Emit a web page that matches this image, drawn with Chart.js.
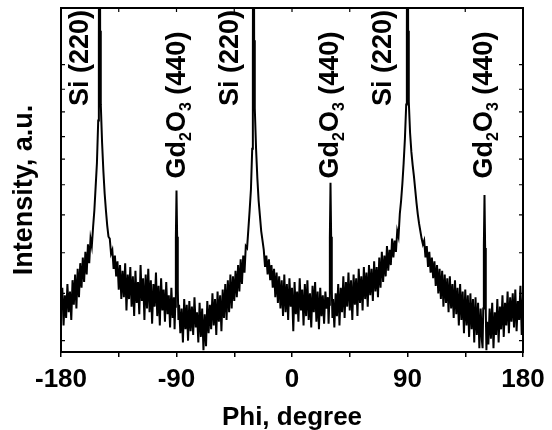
<!DOCTYPE html>
<html>
<head>
<meta charset="utf-8">
<script src="https://cdn.jsdelivr.net/npm/chart.js@4.4.1/dist/chart.umd.min.js"></script>
<style>
  html, body { margin: 0; padding: 0; background: #fff; }
</style>
</head>
<body>
<canvas id="phi-chart" width="552" height="430"></canvas>
<script>
// phi scan, angle in degrees
const phi = [
  -180, -179, -178, -177, -176, -175, -174, -173, -172, -171,
  -170, -169, -168, -167, -166, -165, -164, -163, -162, -161,
  -160, -159, -158, -157, -156, -155, -154, -153, -152, -151,
  -150.5, -150, -149.5, -149, -148, -147, -146, -145, -144, -143,
  -142, -141, -140, -139, -138, -137, -136, -135, -134, -133,
  -132, -131, -130, -129, -128, -127, -126, -125, -124, -123,
  -122, -121, -120, -119, -118, -117, -116, -115, -114, -113,
  -112, -111, -110, -109, -108, -107, -106, -105, -104, -103,
  -102, -101, -100, -99, -98, -97, -96, -95, -94, -93,
  -92, -91.5, -91, -90.5, -90, -89.5, -89, -88.5, -88, -87,
  -86, -85, -84, -83, -82, -81, -80, -79, -78, -77,
  -76, -75, -74, -73, -72, -71, -70, -69, -68, -67,
  -66, -65, -64, -63, -62, -61, -60, -59, -58, -57,
  -56, -55, -54, -53, -52, -51, -50, -49, -48, -47,
  -46, -45, -44, -43, -42, -41, -40, -39, -38, -37,
  -36, -35, -34, -33, -32, -31, -30.5, -30, -29.5, -29,
  -28, -27, -26, -25, -24, -23, -22, -21, -20, -19,
  -18, -17, -16, -15, -14, -13, -12, -11, -10, -9,
  -8, -7, -6, -5, -4, -3, -2, -1, 0, 1,
  2, 3, 4, 5, 6, 7, 8, 9, 10, 11,
  12, 13, 14, 15, 16, 17, 18, 19, 20, 21,
  22, 23, 24, 25, 26, 27, 28, 28.5, 29, 29.5,
  30, 30.5, 31, 31.5, 32, 33, 34, 35, 36, 37,
  38, 39, 40, 41, 42, 43, 44, 45, 46, 47,
  48, 49, 50, 51, 52, 53, 54, 55, 56, 57,
  58, 59, 60, 61, 62, 63, 64, 65, 66, 67,
  68, 69, 70, 71, 72, 73, 74, 75, 76, 77,
  78, 79, 80, 81, 82, 83, 84, 85, 86, 87,
  88, 89, 89.5, 90, 90.5, 91, 92, 93, 94, 95,
  96, 97, 98, 99, 100, 101, 102, 103, 104, 105,
  106, 107, 108, 109, 110, 111, 112, 113, 114, 115,
  116, 117, 118, 119, 120, 121, 122, 123, 124, 125,
  126, 127, 128, 129, 130, 131, 132, 133, 134, 135,
  136, 137, 138, 139, 140, 141, 142, 143, 144, 145,
  146, 147, 148, 148.5, 149, 149.5, 150, 150.5, 151, 151.5,
  152, 153, 154, 155, 156, 157, 158, 159, 160, 161,
  162, 163, 164, 165, 166, 167, 168, 169, 170, 171,
  172, 173, 174, 175, 176, 177, 178, 179, 180
];

// intensity, arbitrary units (axis runs 0..364)
const intensity = [
  45, 68, 28, 60, 36, 72, 42, 64, 34, 76,
  50, 82, 46, 88, 58, 94, 68, 100, 74, 106,
  82, 114, 94, 120, 112, 132, 150, 175, 200, 245,
  330, 700, 340, 262, 222, 192, 168, 150, 134, 122,
  120, 104, 108, 88, 102, 80, 96, 66, 92, 56,
  86, 58, 94, 44, 82, 56, 90, 48, 80, 38,
  86, 52, 74, 40, 92, 54, 78, 34, 82, 46,
  88, 42, 76, 30, 72, 48, 84, 38, 70, 28,
  78, 44, 66, 32, 74, 40, 60, 26, 68, 36,
  58, 24, 48, 120, 171, 122, 66, 34, 50, 20,
  46, 10, 56, 24, 50, 12, 54, 22, 48, 18,
  58, 26, 42, 10, 52, 16, 46, 2, 40, 6,
  54, 20, 50, 24, 62, 28, 56, 18, 64, 32,
  60, 22, 66, 36, 72, 34, 76, 42, 82, 46,
  80, 54, 86, 58, 92, 64, 98, 72, 102, 84,
  112, 110, 130, 150, 172, 215, 310, 700, 330, 258,
  215, 184, 160, 144, 128, 118, 108, 90, 102, 82,
  98, 76, 92, 68, 88, 58, 84, 52, 80, 46,
  76, 38, 82, 42, 72, 34, 78, 48, 68, 22,
  74, 40, 64, 32, 78, 44, 66, 28, 72, 38,
  76, 34, 62, 26, 70, 42, 74, 32, 64, 24,
  68, 38, 60, 30, 64, 46, 58, 30, 50, 120,
  179, 122, 66, 36, 56, 26, 62, 38, 72, 28,
  68, 42, 80, 36, 74, 48, 84, 44, 76, 34,
  82, 50, 78, 38, 88, 52, 80, 44, 90, 56,
  84, 48, 92, 60, 88, 54, 96, 64, 90, 58,
  100, 68, 106, 74, 102, 80, 112, 86, 108, 92,
  120, 100, 118, 106, 128, 122, 146, 160, 178, 200,
  226, 262, 335, 700, 340, 265, 232, 212, 198, 186,
  172, 158, 146, 136, 128, 120, 114, 118, 100, 112,
  90, 106, 84, 100, 78, 96, 70, 92, 62, 88,
  56, 86, 48, 82, 52, 78, 42, 80, 46, 72,
  36, 76, 40, 68, 28, 72, 34, 64, 20, 66,
  28, 60, 16, 62, 24, 56, 10, 58, 18, 52,
  4, 46, 12, 4, 46, 112, 166, 110, 42, 2,
  32, 8, 46, 14, 52, 4, 42, 18, 56, 10,
  48, 24, 60, 16, 52, 28, 64, 20, 58, 32,
  62, 26, 66, 22, 54, 34, 70, 18, 60
];

const xTicks = [-180, -135, -90, -45, 0, 45, 90, 135, 180];
const xLabels = [-180, -90, 0, 90, 180];
const yTicks = [12, 62, 105, 145, 177, 204, 228, 254, 278, 304];

// peak annotations ("_" marks a subscript character)
const peakText = ["Si (220)", "Gd_2O_3 (440)", "Si (220)", "Gd_2O_3 (440)", "Si (220)", "Gd_2O_3 (440)"];
const peakPhi = [-164.4, -89.2, -47.6, 30, 71.7, 150];
const peakTop = [362, 339, 362, 339, 362, 339];

const FONT = 'Arial, "Liberation Sans", Helvetica, sans-serif';

function drawRotated(ctx, text, x, yTop) {
  const runs = [];
  for (let i = 0; i < text.length; i++) {
    if (text[i] === "_") {
      runs.push({ t: text[i + 1], sub: true });
      i++;
    } else if (runs.length && !runs[runs.length - 1].sub) {
      runs[runs.length - 1].t += text[i];
    } else {
      runs.push({ t: text[i], sub: false });
    }
  }
  const big = "bold 27px " + FONT;
  const small = "bold 16px " + FONT;
  let total = 0;
  runs.forEach((r) => {
    ctx.font = r.sub ? small : big;
    r.w = ctx.measureText(r.t).width;
    total += r.w;
  });
  ctx.save();
  ctx.translate(x + 7, yTop + total);
  ctx.rotate(-Math.PI / 2);
  ctx.textBaseline = "alphabetic";
  ctx.textAlign = "left";
  ctx.fillStyle = "#000";
  let pos = 0;
  runs.forEach((r) => {
    ctx.font = r.sub ? small : big;
    ctx.fillText(r.t, pos, r.sub ? 6 : 0);
    pos += r.w;
  });
  ctx.restore();
}

const framePlugin = {
  id: "frame",
  afterDatasetsDraw(chart) {
    const { ctx, chartArea: a, scales } = chart;
    const x = scales.x;
    const y = scales.y;
    ctx.save();
    ctx.strokeStyle = "#000";
    ctx.lineWidth = 2;
    ctx.strokeRect(a.left, a.top, a.right - a.left, a.bottom - a.top);
    ctx.lineWidth = 1.2;
    ctx.beginPath();
    xTicks.forEach((v) => {
      const px = x.getPixelForValue(v);
      ctx.moveTo(px, a.top);
      ctx.lineTo(px, a.top + 4);
    });
    yTicks.forEach((v) => {
      const py = y.getPixelForValue(v);
      ctx.moveTo(a.left, py);
      ctx.lineTo(a.left + 4, py);
      ctx.moveTo(a.right, py);
      ctx.lineTo(a.right - 4, py);
    });
    ctx.stroke();

    // y axis title, set a little below the axis middle as in the original
    ctx.translate(25, 190);
    ctx.rotate(-Math.PI / 2);
    ctx.font = "bold 27px " + FONT;
    ctx.fillStyle = "#000";
    ctx.textAlign = "center";
    ctx.textBaseline = "middle";
    ctx.fillText("Intensity, a.u.", 0, 0);
    ctx.restore();

    peakText.forEach((t, i) => {
      drawRotated(ctx, t, x.getPixelForValue(peakPhi[i]), y.getPixelForValue(peakTop[i]));
    });
  },
};

new Chart(document.getElementById("phi-chart").getContext("2d"), {
  type: "line",
  data: {
    datasets: [
      {
        data: phi.map((p, i) => ({ x: p, y: intensity[i] })),
        borderColor: "#000",
        borderWidth: 2,
        pointRadius: 0,
        tension: 0,
        fill: false,
      },
    ],
  },
  options: {
    responsive: false,
    animation: false,
    layout: { padding: { top: 8, right: 29, left: 0, bottom: 0 } },
    plugins: { legend: { display: false }, tooltip: { enabled: false } },
    scales: {
      x: {
        type: "linear",
        min: -180,
        max: 180,
        afterBuildTicks: (s) => {
          s.ticks = xTicks.map((v) => ({ value: v }));
        },
        afterFit: (s) => {
          s.height = 78;
        },
        ticks: {
          autoSkip: false,
          maxRotation: 0,
          padding: 7,
          color: "#000",
          font: { family: FONT, size: 26, weight: "bold" },
          callback: (v) => (xLabels.includes(v) ? String(v) : ""),
        },
        grid: { drawOnChartArea: false, drawTicks: true, tickLength: 5, color: "#000", lineWidth: 1.5 },
        border: { display: false },
        title: {
          display: true,
          text: "Phi, degree",
          color: "#000",
          font: { family: FONT, size: 26, weight: "bold" },
          padding: { top: 0, bottom: -3 },
        },
      },
      y: {
        type: "linear",
        min: 0,
        max: 364,
        afterFit: (s) => {
          s.width = 61;
        },
        ticks: { display: false },
        grid: { display: false },
        border: { display: false },
        title: { display: false },
      },
    },
  },
  plugins: [framePlugin],
});
</script>
</body>
</html>
